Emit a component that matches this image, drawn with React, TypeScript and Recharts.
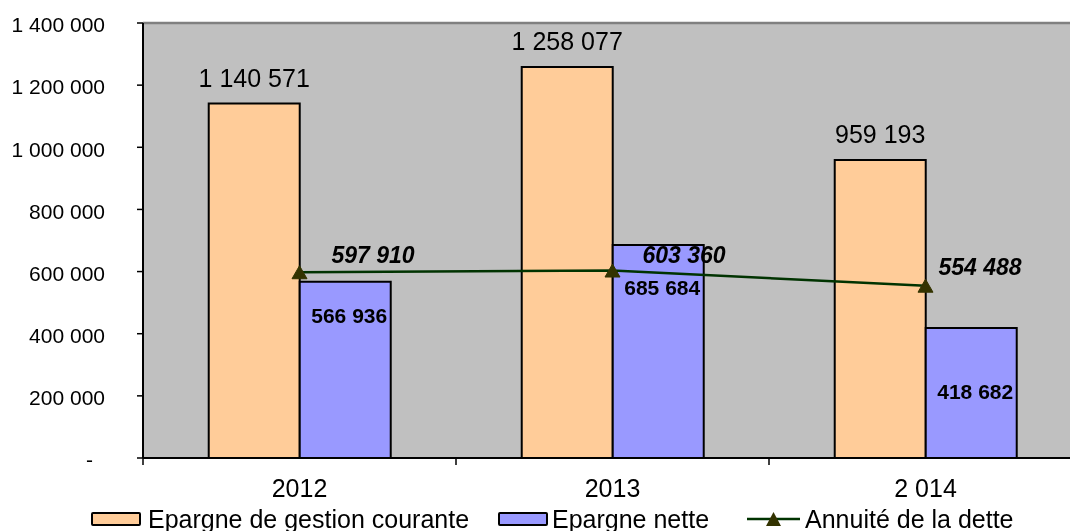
import React from 'react';
import {
  ComposedChart,
  Bar,
  Line,
  XAxis,
  YAxis,
  CartesianGrid,
  ReferenceLine,
  LabelList,
  Legend,
} from 'recharts';

// ---------- data ----------
const YEARS = ['2012', '2013', '2 014'];
const EPARGNE_GESTION = [1140571, 1258077, 959193];
const EPARGNE_NETTE = [566936, 685684, 418682];
const ANNUITE_DETTE = [597910, 603360, 554488];
const Y_TICKS = [0, 200000, 400000, 600000, 800000, 1000000, 1200000, 1400000];
const SERIES_NAMES = ['Epargne de gestion courante', 'Epargne nette', 'Annuité de la dette'];

// ---------- label nudges (styling only) ----------
const NET_LABEL_DROP = [41, 50, 71];
const ANNUITE_LABEL_DX = [32, 30, 13];
const ANNUITE_LABEL_DY = [9, 8, 11];

const data = YEARS.map((year, i) => ({
  year,
  gestion: EPARGNE_GESTION[i],
  nette: EPARGNE_NETTE[i],
  annuite: ANNUITE_DETTE[i],
}));

const FONT = '"Liberation Sans", Arial, Helvetica, sans-serif';
const ORANGE = '#FFCC99';
const BLUE = '#9999FF';
const LINE_GREEN = '#003300';
const MARKER = '#333300';
const PLOT_BG = '#C0C0C0';

const CHART_W = 1082;
const CHART_H = 523;
const MARGIN = { top: 15, right: 8, left: 0, bottom: 0 };
const Y_AXIS_W = 135;
const BAND_HALF = (CHART_W - MARGIN.right - Y_AXIS_W) / YEARS.length / 2;

const fmt = (v: number) => String(Math.round(v)).replace(/\B(?=(\d{3})+(?!\d))/g, ' ');

const YTick = (props: any) => {
  const { x, y, payload } = props;
  const v = payload.value;
  return (
    <text
      x={v === 0 ? x - 44 : x - 32}
      y={y}
      dy="0.44em"
      textAnchor="end"
      fontSize={21}
      fontFamily={FONT}
      fill="#000"
    >
      {v === 0 ? '-' : fmt(v)}
    </text>
  );
};

const XTick = (props: any) => {
  const { x, y, payload, index, visibleTicksCount } = props;
  const half = payload && typeof payload.offset === 'number' && payload.offset > 0 ? payload.offset : BAND_HALF;
  return (
    <g>
      <line x1={x - half} x2={x - half} y1={y} y2={y + 7} stroke="#000" strokeWidth={1.5} />
      {index === visibleTicksCount - 1 && (
        <line x1={x + half} x2={x + half} y1={y} y2={y + 7} stroke="#000" strokeWidth={1.5} />
      )}
      <text x={x} y={y + 39} textAnchor="middle" fontSize={25} fontFamily={FONT} fill="#000">
        {payload.value}
      </text>
    </g>
  );
};

const GestionLabel = (props: any) => {
  const { x, y, width, value } = props;
  return (
    <text x={x + width / 2} y={y - 17} textAnchor="middle" fontSize={25} fontFamily={FONT} fill="#000">
      {fmt(value)}
    </text>
  );
};

const NetteLabel = (props: any) => {
  const { x, y, width, value, index } = props;
  return (
    <text
      x={x + width / 2 + 4}
      y={y + NET_LABEL_DROP[index]}
      textAnchor="middle"
      fontSize={21}
      fontWeight="bold"
      fontFamily={FONT}
      fill="#000"
    >
      {fmt(value)}
    </text>
  );
};

const AnnuiteLabel = (props: any) => {
  const { x, y, value, index } = props;
  return (
    <text
      x={x + ANNUITE_LABEL_DX[index]}
      y={y - ANNUITE_LABEL_DY[index]}
      textAnchor="start"
      fontSize={23}
      fontWeight="bold"
      fontStyle="italic"
      fontFamily={FONT}
      fill="#000"
    >
      {fmt(value)}
    </text>
  );
};

const Triangle = (props: any) => {
  const { cx, cy } = props;
  if (cx == null || cy == null) return null;
  return (
    <polygon
      points={`${cx - 7.5},${cy + 6.5} ${cx + 7.5},${cy + 6.5} ${cx},${cy - 6.5}`}
      fill={MARKER}
      stroke={MARKER}
      strokeWidth={1}
    />
  );
};

const BoxIcon = ({ color }: { color: string }) => (
  <div
    style={{
      width: 50,
      height: 14,
      boxSizing: 'border-box',
      border: '2.5px solid #000',
      borderRadius: 2,
      background: color,
    }}
  />
);

const LineIcon = () => (
  <svg width={53} height={16} style={{ display: 'block' }}>
    <line x1={0} x2={53} y1={8} y2={8} stroke={LINE_GREEN} strokeWidth={2.5} />
    <polygon points="19,15 34,15 26.5,1" fill={MARKER} />
  </svg>
);

const LegendContent = () => {
  const items = [
    { left: 83, icon: <BoxIcon color={ORANGE} />, label: SERIES_NAMES[0], gap: 7 },
    { left: 490, icon: <BoxIcon color={BLUE} />, label: SERIES_NAMES[1], gap: 4 },
    { left: 739, icon: <LineIcon />, label: SERIES_NAMES[2], gap: 5 },
  ];
  return (
    <div style={{ position: 'relative', width: CHART_W, height: 30, fontFamily: FONT, fontSize: 25, color: '#000' }}>
      {items.map((it, i) => (
        <div
          key={i}
          style={{
            position: 'absolute',
            left: it.left,
            top: 3,
            height: 30,
            display: 'flex',
            alignItems: 'center',
            whiteSpace: 'nowrap',
          }}
        >
          {it.icon}
          <span style={{ marginLeft: it.gap }}>{it.label}</span>
        </div>
      ))}
    </div>
  );
};

export default function App() {
  return (
    <div
      style={{
        position: 'fixed',
        left: 8,
        top: 8,
        width: 1062,
        height: 523,
        overflow: 'hidden',
      }}
    >
      <ComposedChart
        width={CHART_W}
        height={CHART_H}
        data={data}
        margin={MARGIN}
        barCategoryGap="21%"
        barGap={0}
      >
        <CartesianGrid horizontal={false} vertical={false} fill={PLOT_BG} fillOpacity={1} stroke="none" />
        <XAxis
          dataKey="year"
          height={43}
          tickSize={0}
          tickMargin={0}
          tickLine={false}
          axisLine={{ stroke: '#000', strokeWidth: 2 }}
          tick={<XTick />}
          interval={0}
        />
        <YAxis
          width={Y_AXIS_W}
          domain={[0, 1400000]}
          ticks={Y_TICKS}
          tickSize={6}
          tickMargin={0}
          tickLine={{ stroke: '#000', strokeWidth: 1.5 }}
          axisLine={{ stroke: '#000', strokeWidth: 2 }}
          tick={<YTick />}
          interval={0}
        />
        <ReferenceLine y={1400000} stroke="#808080" strokeWidth={2.5} />
        <Bar dataKey="gestion" name={SERIES_NAMES[0]} fill={ORANGE} stroke="#000" strokeWidth={2} isAnimationActive={false}>
          <LabelList dataKey="gestion" content={<GestionLabel />} />
        </Bar>
        <Bar dataKey="nette" name={SERIES_NAMES[1]} fill={BLUE} stroke="#000" strokeWidth={2} isAnimationActive={false}>
          <LabelList dataKey="nette" content={<NetteLabel />} />
        </Bar>
        <Line
          dataKey="annuite"
          name={SERIES_NAMES[2]}
          stroke={LINE_GREEN}
          strokeWidth={2.5}
          dot={<Triangle />}
          activeDot={false}
          isAnimationActive={false}
        >
          <LabelList dataKey="annuite" content={<AnnuiteLabel />} />
        </Line>
        <Legend verticalAlign="bottom" height={30} content={<LegendContent />} wrapperStyle={{ left: 0, width: CHART_W }} />
      </ComposedChart>
    </div>
  );
}
